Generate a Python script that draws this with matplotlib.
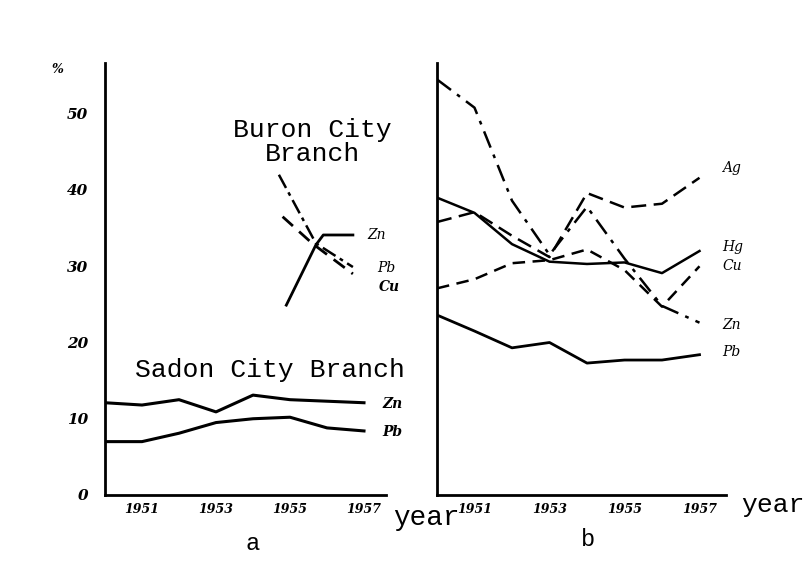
import matplotlib.pyplot as plt

# panel a, Sadon City Branch
years_a = [1950, 1951, 1952, 1953, 1954, 1955, 1956, 1957]
sadon_zn = [12.1, 11.8, 12.5, 10.9, 13.1, 12.5, 12.3, 12.1]
sadon_pb = [7.0, 7.0, 8.1, 9.5, 10.0, 10.2, 8.8, 8.4]

# panel a, Buron City Branch (short strokes)
buron_zn_x = [1954.9, 1955.7, 1955.9, 1956.7]
buron_zn_y = [24.9, 32.8, 34.1, 34.1]
buron_pb_x = [1954.7, 1955.7, 1956.7]
buron_pb_y = [42.0, 33.0, 29.9]
buron_cu_x = [1954.8, 1955.6, 1956.7]
buron_cu_y = [36.5, 33.0, 29.0]

# panel b
years_b = [1950, 1951, 1952, 1953, 1954, 1955, 1956, 1957]
b_ag = [35.8, 37.1, 34.0, 31.2, 39.6, 37.7, 38.2, 41.6]
b_zn = [54.5, 50.8, 38.6, 31.5, 37.8, 31.0, 24.8, 22.6]
b_hg = [39.0, 37.0, 32.9, 30.6, 30.3, 30.5, 29.1, 32.0]
b_cu = [27.1, 28.3, 30.4, 30.8, 32.2, 29.5, 24.7, 30.0]
b_pb = [23.6, 21.5, 19.3, 20.0, 17.3, 17.7, 17.7, 18.4]

xticks = [1951, 1953, 1955, 1957]
yticks = [0, 10, 20, 30, 40, 50]

mono = 'Liberation Mono'
tick_font = dict(family='DejaVu Serif', style='italic', weight='bold', size=9)
lab_font = dict(family='DejaVu Serif', style='italic', size=10)

fig = plt.figure(figsize=(8.09, 5.61), dpi=100)
H = 561.0
W = 809.0
bottom = 1 - 495 / H
height = (495 - 63) / H
ytop = (495 - 63) / 7.625

ax_a = fig.add_axes([105 / W, bottom, 7.6 * 37 / W, height])
ax_b = fig.add_axes([437 / W, bottom, 7.7 * 37.5 / W, height])

for ax in (ax_a, ax_b):
    ax.set_ylim(0, ytop)
    for s in ('top', 'right'):
        ax.spines[s].set_visible(False)
    for s in ('left', 'bottom'):
        ax.spines[s].set_linewidth(2)
    ax.set_xticks(xticks)
    ax.set_xticklabels([str(t) for t in xticks], fontdict=tick_font)
    ax.tick_params(length=0, pad=6)
    ax.set_facecolor('none')

ax_a.set_xlim(1950, 1957.6)
ax_b.set_xlim(1950, 1957.7)

ax_a.set_yticks(yticks)
ax_a.set_yticklabels([str(t) for t in yticks],
                     fontdict=dict(tick_font, size=11))
ax_a.tick_params(axis='y', pad=12)
ax_b.set_yticks([])

# panel a lines
ax_a.plot(years_a, sadon_zn, color='black', lw=2.2)
ax_a.plot(years_a, sadon_pb, color='black', lw=2.2)
ax_a.plot(buron_zn_x, buron_zn_y, color='black', lw=2.0)
ax_a.plot(buron_pb_x, buron_pb_y, color='black', lw=1.8, ls=(0, (6, 2, 1.5, 2)))
ax_a.plot(buron_cu_x, buron_cu_y, color='black', lw=2.0, ls=(0, (5, 3)))

ax_a.text(1955.6, 46.3, 'Buron City\nBranch', family=mono, size=19,
          ha='center', va='center', linespacing=1.0)
ax_a.text(1954.46, 16.4, 'Sadon City Branch', family=mono, size=19,
          ha='center', va='center')
ax_a.text(1957.1, 34.1, 'Zn', va='center', **lab_font)
ax_a.text(1957.35, 29.8, 'Pb', va='center', **lab_font)
ax_a.text(1957.4, 27.3, 'Cu', va='center', weight='bold', **lab_font)
ax_a.text(1957.5, 12.0, 'Zn', va='center', clip_on=False, weight='bold', **lab_font)
ax_a.text(1957.5, 8.3, 'Pb', va='center', clip_on=False, weight='bold', **lab_font)
ax_a.text(-0.19, 0.985, '%', transform=ax_a.transAxes, ha='left', va='center',
          **dict(tick_font, size=9))

# panel b lines
ax_b.plot(years_b, b_ag, color='black', lw=1.8, ls=(0, (6, 3)))
ax_b.plot(years_b, b_zn, color='black', lw=1.8, ls=(0, (7, 3, 1.5, 3)))
ax_b.plot(years_b, b_hg, color='black', lw=1.8)
ax_b.plot(years_b, b_cu, color='black', lw=1.8, ls=(0, (5, 3)))
ax_b.plot(years_b, b_pb, color='black', lw=2.0)

for name, val in [('Ag', 42.9), ('Hg', 32.5), ('Cu', 30.0), ('Zn', 22.3), ('Pb', 18.8)]:
    ax_b.text(1957.6, val, name, va='center', clip_on=False, **lab_font)

# axis captions
fig.text(393 / W, 1 - 518 / H, 'year', family=mono, size=20, va='center')
fig.text(805 / W, 1 - 505 / H, 'year', family=mono, size=19, ha='right', va='center')
fig.text(253 / W, 1 - 543 / H, 'a', family=mono, size=17, ha='center', va='center')
fig.text(588 / W, 1 - 540 / H, 'b', family=mono, size=17, ha='center', va='center')

fig.savefig('out.png', dpi=100)
